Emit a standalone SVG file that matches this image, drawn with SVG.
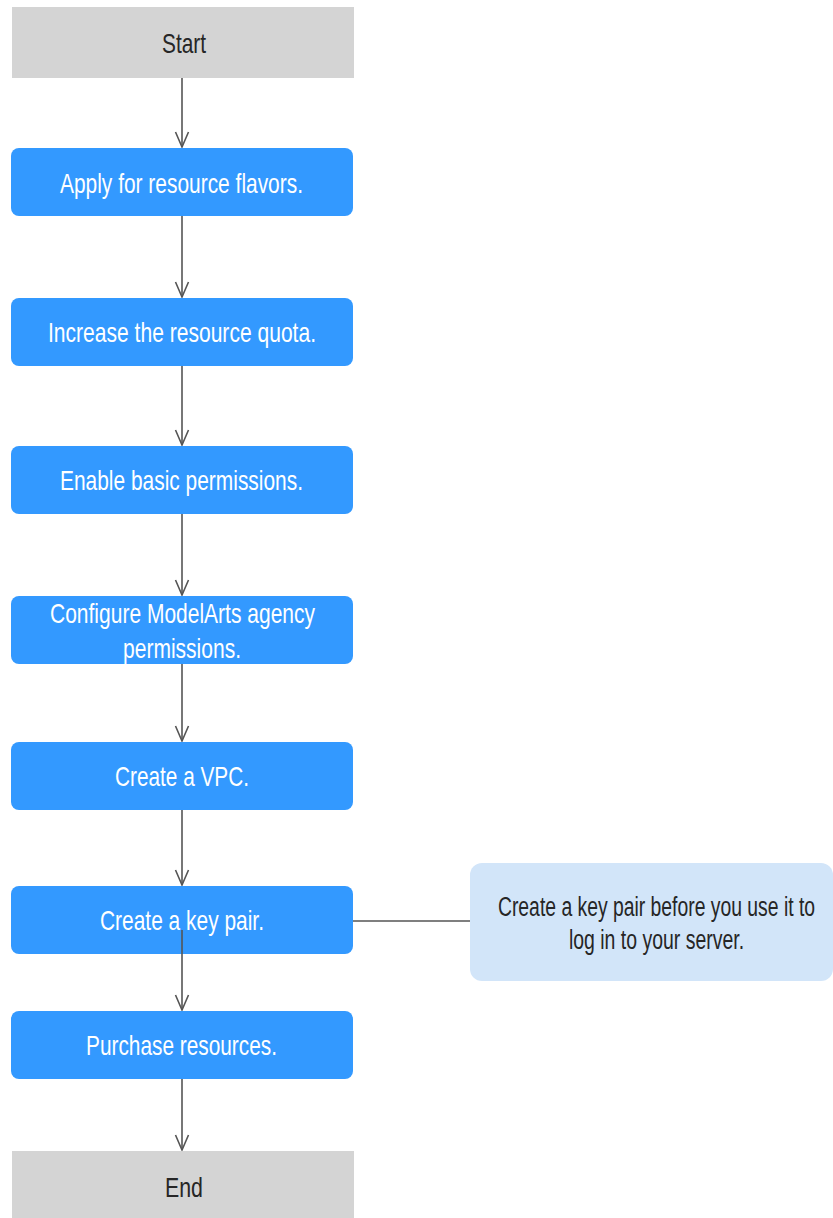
<svg xmlns="http://www.w3.org/2000/svg" width="833" height="1218" viewBox="0 0 833 1218">
<style>
.term{fill:#d4d4d4}
.step{fill:#3399ff}
.note{fill:#d2e5f9}
text{font-family:"Liberation Sans",Arial,sans-serif;font-size:28px;text-anchor:middle}
.w{fill:#ffffff}
.d{fill:#262626}
.c{stroke:#555555;stroke-width:1.6;fill:none}
</style>
<defs>
<marker id="arr" markerUnits="userSpaceOnUse" markerWidth="18" markerHeight="16" viewBox="0 0 18 16" refX="16" refY="8" orient="auto">
<path d="M1,1.5 L16,8 L1,14.5" fill="none" stroke="#555555" stroke-width="1.6"/>
</marker>
</defs>
<rect width="833" height="1218" fill="#ffffff"/>
<g id="connectors">
<line class="c" x1="182" y1="78" x2="182" y2="147" marker-end="url(#arr)"/>
<line class="c" x1="182" y1="216" x2="182" y2="297" marker-end="url(#arr)"/>
<line class="c" x1="182" y1="366" x2="182" y2="445" marker-end="url(#arr)"/>
<line class="c" x1="182" y1="514" x2="182" y2="595" marker-end="url(#arr)"/>
<line class="c" x1="182" y1="664" x2="182" y2="741" marker-end="url(#arr)"/>
<line class="c" x1="182" y1="810" x2="182" y2="885" marker-end="url(#arr)"/>
<line class="c" x1="182" y1="924" x2="182" y2="1010" marker-end="url(#arr)"/>
<line class="c" x1="182" y1="1079" x2="182" y2="1150" marker-end="url(#arr)"/>
<line class="c" x1="353" y1="921" x2="470" y2="921"/>
</g>
<g id="start"><rect class="term" x="12" y="7" width="342" height="71"/><text class="d" x="184" y="53" textLength="44" lengthAdjust="spacingAndGlyphs">Start</text></g>
<g id="apply"><rect class="step" x="11" y="148" width="342" height="68" rx="8"/><text class="w" x="181.5" y="193" textLength="243" lengthAdjust="spacingAndGlyphs">Apply for resource flavors.</text></g>
<g id="quota"><rect class="step" x="11" y="298" width="342" height="68" rx="8"/><text class="w" x="182" y="342" textLength="268" lengthAdjust="spacingAndGlyphs">Increase the resource quota.</text></g>
<g id="perm"><rect class="step" x="11" y="446" width="342" height="68" rx="8"/><text class="w" x="181.5" y="490" textLength="243" lengthAdjust="spacingAndGlyphs">Enable basic permissions.</text></g>
<g id="agency"><rect class="step" x="11" y="596" width="342" height="68" rx="8"/><text class="w" x="182.5" y="623" textLength="265" lengthAdjust="spacingAndGlyphs">Configure ModelArts agency</text><text class="w" x="182" y="658" textLength="118" lengthAdjust="spacingAndGlyphs">permissions.</text></g>
<g id="vpc"><rect class="step" x="11" y="742" width="342" height="68" rx="8"/><text class="w" x="182" y="786" textLength="134" lengthAdjust="spacingAndGlyphs">Create a VPC.</text></g>
<g id="keypair"><rect class="step" x="11" y="886" width="342" height="68" rx="8"/><text class="w" x="182" y="930" textLength="164" lengthAdjust="spacingAndGlyphs">Create a key pair.</text></g>
<line class="c" x1="182" y1="930" x2="182" y2="954"/>
<g id="note"><rect class="note" x="470" y="863" width="363" height="118" rx="12"/><g transform="translate(656.5 0) scale(0.755 1)"><text class="d" x="0" y="916" font-size="27" textLength="420" lengthAdjust="spacingAndGlyphs">Create a key pair before you use it to</text><text class="d" x="0" y="949" font-size="27" textLength="232" lengthAdjust="spacingAndGlyphs">log in to your server.</text></g></g>
<g id="purchase"><rect class="step" x="11" y="1011" width="342" height="68" rx="8"/><text class="w" x="181.5" y="1055" textLength="191" lengthAdjust="spacingAndGlyphs">Purchase resources.</text></g>
<g id="end"><rect class="term" x="12" y="1151" width="342" height="67"/><text class="d" x="184" y="1197" textLength="38" lengthAdjust="spacingAndGlyphs">End</text></g>
</svg>
